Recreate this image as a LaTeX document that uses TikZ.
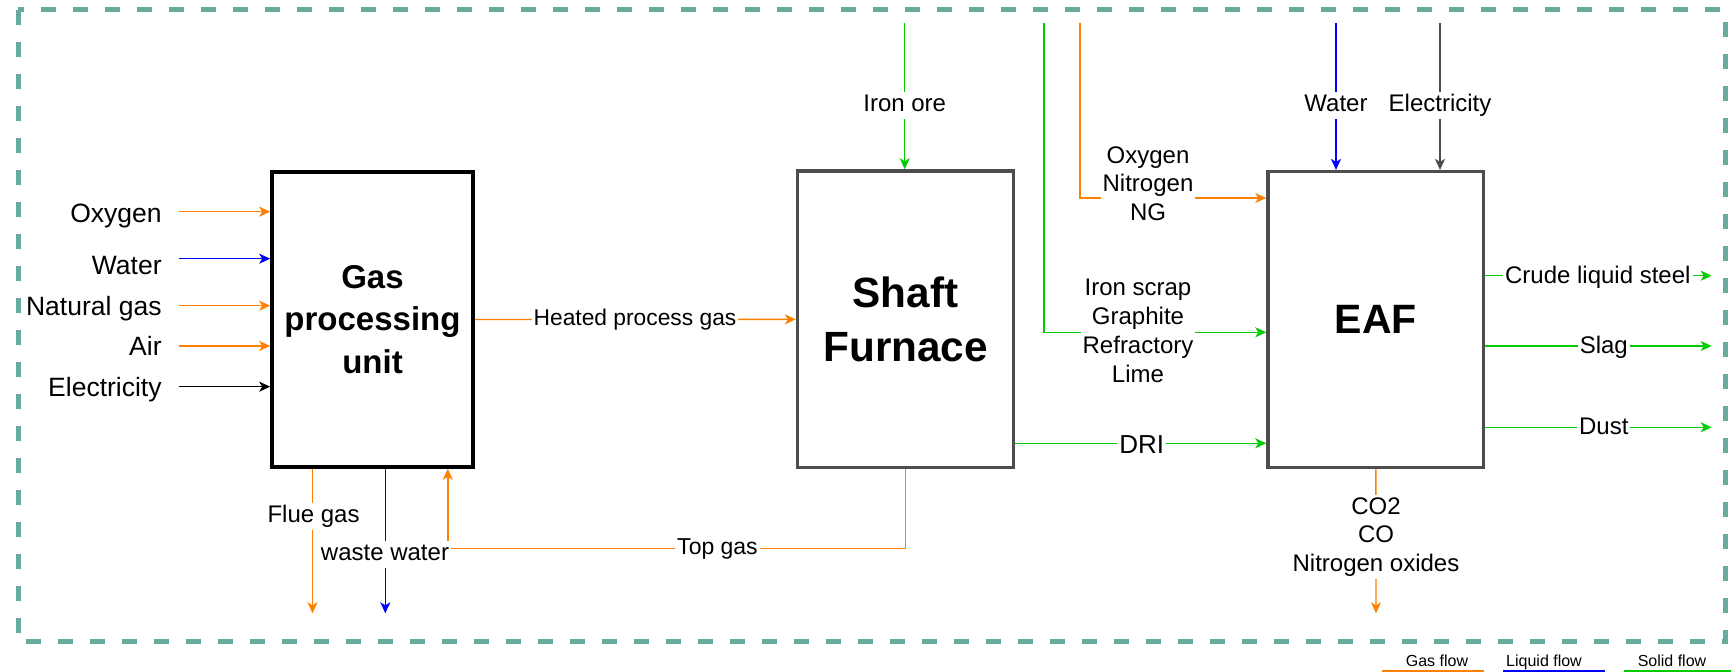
\documentclass[tikz,border=0pt]{standalone}
\usepackage{fontspec}
\setmainfont{Liberation Sans}
\usetikzlibrary{arrows.meta,calc}
\definecolor{gasc}{RGB}{255,128,0}
\definecolor{liqc}{RGB}{0,0,255}
\definecolor{solc}{RGB}{0,204,0}
\definecolor{tealc}{RGB}{103,171,159}
\definecolor{boxgray}{RGB}{77,77,77}
\begin{document}
\begin{tikzpicture}[x=0.5pt,y=-0.5pt,
  flow/.style={line width=0.7pt,-{Stealth[length=5.5pt,width=5pt,inset=1.5pt]}},
  gasf/.style={flow,draw=gasc},
  liqf/.style={flow,draw=liqc},
  solf/.style={flow,draw=solc},
  elef/.style={flow,draw=black},
  unitbox/.style={draw,line width=1.8pt,align=center,fill=white},
  leftlab/.style={anchor=base east,font=\fontsize{13.25}{15}\selectfont,inner sep=0pt},
  lab/.style={fill=white,inner sep=1pt,font=\fontsize{12}{14}\selectfont,text height=8.8pt,text depth=2.5pt},
  mlab/.style={fill=white,inner sep=1pt,align=center},
  legtext/.style={anchor=base,font=\fontsize{8}{9}\selectfont,inner sep=0pt},
  legline/.style={line width=1pt}
]
\useasboundingbox (0,0) rectangle (1731,672);

% system boundary
\draw[tealc,line width=2.5pt,dash pattern=on 7.5pt off 8.5pt] (18,10) rectangle (1725,642);

% process units
\node[unitbox,draw=black,minimum width=100.5pt,minimum height=147.5pt,
      font=\bfseries\fontsize{16.5}{21.25}\selectfont] (gpu) at (372.5,319.5) {Gas\\processing\\unit};
\node[unitbox,draw=boxgray,minimum width=108pt,minimum height=148.25pt,
      font=\bfseries\fontsize{21.15}{26.8}\selectfont] (sf) at (905.6,319.3) {Shaft\\Furnace};
\node[unitbox,draw=boxgray,minimum width=107.75pt,minimum height=148pt,
      font=\bfseries\fontsize{20.5}{24}\selectfont] (eaf) at (1375.8,319.7) {EAF};

% coordinates for free ends
\coordinate (oxs) at (179,211.7);
\coordinate (wts) at (179,258.7);
\coordinate (ngs) at (179,305.7);
\coordinate (airs) at (179,346);
\coordinate (els) at (179,386.7);
\coordinate (fgend) at (312.5,613.3);
\coordinate (wwend) at (385.3,613.3);
\coordinate (tgc) at (447.8,548.3);
\coordinate (ios) at (904.7,23);
\coordinate (iss) at (1044,23);
\coordinate (isb) at (1044,332.3);
\coordinate (ons) at (1080,23);
\coordinate (onb) at (1080,198);
\coordinate (ews) at (1336,23);
\coordinate (ees) at (1440,23);
\coordinate (dri) at (1141.7,443.3);
\coordinate (clsend) at (1711.7,275.7);
\coordinate (slagend) at (1711.7,346);
\coordinate (dustend) at (1711.7,427.3);
\coordinate (co2end) at (1376,613.3);

% inputs to gas processing unit
\draw[gasf] (oxs) -- (oxs -| gpu.west);
\draw[liqf] (wts) -- (wts -| gpu.west);
\draw[gasf] (ngs) -- (ngs -| gpu.west);
\draw[gasf] (airs) -- (airs -| gpu.west);
\draw[elef] (els) -- (els -| gpu.west);

% gas processing outputs
\draw[gasf] (gpu.south -| fgend) -- (fgend);
\draw[liqf] (gpu.south -| wwend) -- (wwend);
\draw[gasf] (gpu.east) -- (sf.west);

% top gas recycle
\draw[gasf] (sf.south) |- (tgc) -- (tgc |- gpu.south);

% shaft furnace inputs / outputs
\draw[solf] (ios) -- (ios |- sf.north);
\draw[solf] (sf.east |- dri) -- (dri -| eaf.west);

% EAF inputs
\draw[solf] (iss) -- (isb) -- (isb -| eaf.west);
\draw[gasf] (ons) -- (onb) -- (onb -| eaf.west);
\draw[liqf] (ews) -- (ews |- eaf.north);
\draw[elef,draw=black!70] (ees) -- (ees |- eaf.north);

% EAF outputs
\draw[solf] (eaf.east |- clsend) -- (clsend);
\draw[solf] (eaf.east |- slagend) -- (slagend);
\draw[solf] (eaf.east |- dustend) -- (dustend);
\draw[gasf] (eaf.south) -- (co2end);

% left labels
\node[leftlab] (loxy) at (162,222.5) {Oxygen};
\node[leftlab] (lwat) at (162,274.5) {Water};
\node[leftlab] (lng) at (162,315.5) {Natural gas};
\node[leftlab] (lair) at (162,355.5) {Air};
\node[leftlab] (lele) at (162,396.2) {Electricity};

% labels on connectors
\node[lab,font=\fontsize{11.4}{13}\selectfont,text height=8.3pt,text depth=2.4pt] (lhpg) at (635,319.5) {Heated process gas};
\node[lab] (lflue) at (313.6,516.5) {Flue gas};
\node[lab] (lww) at (385,554.4) {waste water};
\node[lab,font=\fontsize{11.5}{13}\selectfont,text height=8.4pt,text depth=2.4pt] (ltg) at (717.5,549) {Top gas};
\node[lab] (liore) at (904.7,105.3) {Iron ore};
\node[lab] (lwat2) at (1336,105.3) {Water};
\node[lab] (lele2) at (1440,105.3) {Electricity};
\node[lab,font=\fontsize{13}{15}\selectfont,text height=9.5pt,text depth=2.7pt] (ldri) at (1141.7,446.5) {DRI};
\node[lab] (lcls) at (1597.8,277.6) {Crude liquid steel};
\node[lab] (lslag) at (1603.8,347.6) {Slag};
\node[lab] (ldust) at (1603.8,428.6) {Dust};
\node[mlab,font=\fontsize{12}{14.2}\selectfont] (lon) at (1148,183.4) {Oxygen\\Nitrogen\\NG};
\node[mlab,font=\fontsize{12}{14.5}\selectfont] (lis) at (1138,331.3) {Iron scrap\\Graphite\\Refractory\\Lime};
\node[mlab,font=\fontsize{12}{14.4}\selectfont] (lco) at (1376,537) {CO2\\CO\\Nitrogen oxides};

% legend
\node[legtext] (leggas) at (1437,666.7) {Gas flow};
\node[legtext] (legliq) at (1544,666.7) {Liquid flow};
\node[legtext] (legsol) at (1672,666.7) {Solid flow};
\coordinate (lg1) at (1382,670.7);
\coordinate (lg2) at (1484,670.7);
\coordinate (ll1) at (1503,670.7);
\coordinate (ll2) at (1605,670.7);
\coordinate (ls1) at (1624,670.7);
\coordinate (ls2) at (1731,670.7);
\draw[legline,gasc] (lg1) -- (lg2);
\draw[legline,liqc] (ll1) -- (ll2);
\draw[legline,solc] (ls1) -- (ls2);
\end{tikzpicture}
\end{document}
